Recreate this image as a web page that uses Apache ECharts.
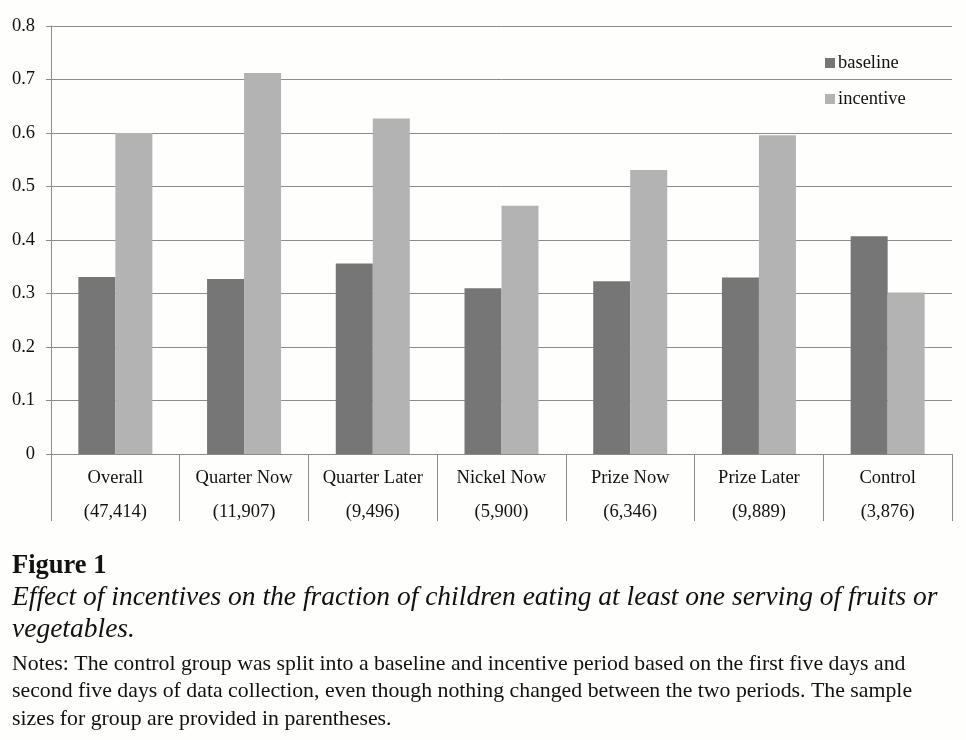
<!DOCTYPE html>
<html>
<head>
<meta charset="utf-8">
<script src="https://cdn.jsdelivr.net/npm/echarts@6/dist/echarts.min.js"></script>
<style>
html,body{margin:0;padding:0;background:#fefefc;}
#chart{width:966px;height:740px;}
</style>
</head>
<body>
<div id="chart"></div>
<script>
var categories = ['Overall', 'Quarter Now', 'Quarter Later', 'Nickel Now', 'Prize Now', 'Prize Later', 'Control'];
var sampleSizes = ['(47,414)', '(11,907)', '(9,496)', '(5,900)', '(6,346)', '(9,889)', '(3,876)'];
var baseline = [0.331, 0.327, 0.356, 0.310, 0.323, 0.330, 0.407];
var incentive = [0.600, 0.712, 0.627, 0.464, 0.531, 0.596, 0.302];
var yTicks = { min: 0, max: 0.8, interval: 0.1 };

var serif = '"Liberation Serif", "DejaVu Serif", serif';
function caption(text, y, font) {
  return { type: 'text', x: 12, y: y, style: { text: text, font: font, fill: '#111', verticalAlign: 'middle', align: 'left' } };
}
var chart = echarts.init(document.getElementById('chart'));
chart.setOption({
  backgroundColor: '#fefefc',
  animation: false,
  textStyle: { fontFamily: serif },
  grid: { left: 51, right: 14, top: 26, bottom: 286 },
  legend: {
    orient: 'vertical',
    left: 825, top: 53, padding: 0,
    itemWidth: 10, itemHeight: 10, itemGap: 16,
    icon: 'rect',
    textStyle: { fontFamily: serif, fontSize: 18.5, color: '#111', lineHeight: 20, padding: [0, 0, 0, -2] },
    data: ['baseline', 'incentive']
  },
  xAxis: {
    type: 'category',
    data: categories,
    axisLine: { lineStyle: { color: '#8c8c8c', width: 1 } },
    axisTick: { show: true, interval: 0, length: 67, alignWithLabel: false, lineStyle: { color: '#8c8c8c' } },
    axisLabel: {
      interval: 0, margin: 7, fontFamily: serif, fontSize: 18.5, color: '#111', lineHeight: 34,
      formatter: function (v, i) { return v + '\n' + sampleSizes[i]; }
    }
  },
  yAxis: {
    type: 'value',
    min: yTicks.min, max: yTicks.max, interval: yTicks.interval,
    axisLine: { show: true, lineStyle: { color: '#8c8c8c' } },
    axisTick: { show: true, length: 5, lineStyle: { color: '#8c8c8c' } },
    splitLine: { lineStyle: { color: '#8c8c8c', width: 1 } },
    axisLabel: {
      margin: 16, fontFamily: serif, fontSize: 18.5, color: '#111',
      formatter: function (v) { return v === 0 ? '0' : v.toFixed(1); }
    }
  },
  series: [
    { name: 'baseline', type: 'bar', data: baseline, barWidth: 37, barGap: '0%', itemStyle: { color: '#767676' } },
    { name: 'incentive', type: 'bar', data: incentive, barWidth: 37, barGap: '0%', itemStyle: { color: '#b3b3b3' } }
  ],
  graphic: [
    caption('Figure 1', 566, 'bold 26.5px ' + serif),
    caption('Effect of incentives on the fraction of children eating at least one serving of fruits or', 598, 'italic 27.5px ' + serif),
    caption('vegetables.', 630, 'italic 27.5px ' + serif),
    caption('Notes: The control group was split into a baseline and incentive period based on the first five days and', 664, '21.8px ' + serif),
    caption('second five days of data collection, even though nothing changed between the two periods. The sample', 691, '21.8px ' + serif),
    caption('sizes for group are provided in parentheses.', 719, '21.8px ' + serif)
  ]
});
</script>
</body>
</html>
